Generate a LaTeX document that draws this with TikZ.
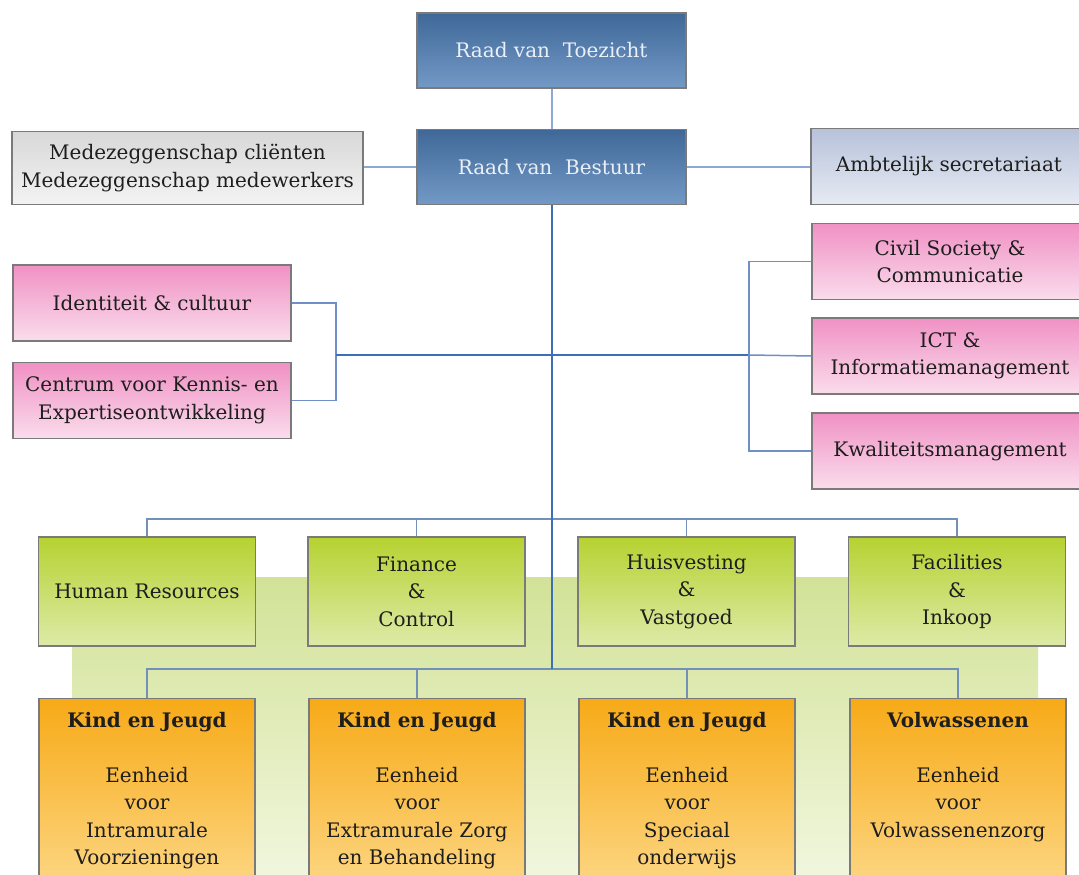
\documentclass[tikz,border=0pt]{standalone}
\usepackage{fontspec}
\setmainfont{DejaVu Serif}
\usetikzlibrary{calc}
\definecolor{boxborder}{HTML}{7A7A7A}
\definecolor{textdark}{HTML}{1E1E1E}
\definecolor{bluetop}{HTML}{3F6898}
\definecolor{bluebot}{HTML}{7399C6}
\definecolor{bluetext}{HTML}{EAF0F8}
\definecolor{greytop}{HTML}{D8D8D8}
\definecolor{greybot}{HTML}{F3F3F3}
\definecolor{ambtop}{HTML}{B7C2DA}
\definecolor{ambbot}{HTML}{E6EAF3}
\definecolor{pinktop}{HTML}{F091C4}
\definecolor{pinkbot}{HTML}{FADDEC}
\definecolor{greentop}{HTML}{B6D231}
\definecolor{greenbot}{HTML}{DDEAA8}
\definecolor{orangetop}{HTML}{F7AA17}
\definecolor{orangebot}{HTML}{FDD98A}
\definecolor{bgtop}{HTML}{D2E297}
\definecolor{bgbot}{HTML}{F3F8E3}
\definecolor{linklight}{HTML}{8EA7D6}
\definecolor{linkblue}{HTML}{6F8FC6}
\definecolor{trunkblue}{HTML}{3D6FB8}
\definecolor{busblue}{HTML}{7391B8}
\begin{document}
\begin{tikzpicture}[x=1pt,y=-1pt,
  box/.style={draw=boxborder, line width=1.3pt, align=center, inner sep=0pt,
    font=\fontsize{20}{27.5}\selectfont, text=textdark},
  bluebox/.style={box, top color=bluetop, bottom color=bluebot, text=bluetext,
    minimum width=269pt, minimum height=75pt},
  greybox/.style={box, top color=greytop, bottom color=greybot,
    minimum width=351pt, minimum height=73pt},
  ambbox/.style={box, top color=ambtop, bottom color=ambbot,
    minimum width=276pt, minimum height=76pt},
  pinkbox/.style={box, top color=pinktop, bottom color=pinkbot,
    minimum width=278pt, minimum height=76pt},
  pinkright/.style={box, top color=pinktop, bottom color=pinkbot,
    minimum width=276pt, minimum height=76pt},
  greenbox/.style={box, top color=greentop, bottom color=greenbot,
    minimum width=217pt, minimum height=109pt},
  orangebox/.style={box, top color=orangetop, bottom color=orangebot,
    minimum width=216pt, minimum height=200pt, anchor=north},
  otext/.style={align=center, inner sep=0pt, anchor=north,
    font=\fontsize{20}{27.5}\selectfont, text=textdark},
  lightlink/.style={draw=linklight, line width=2pt},
  link/.style={draw=linkblue, line width=1.5pt},
  trunk/.style={draw=trunkblue, line width=2pt},
  bus/.style={draw=busblue, line width=1.5pt}
]
\useasboundingbox (0,0) rectangle (1079,875);

% background panel
\fill[top color=bgtop, bottom color=bgbot] (72,577) rectangle (1038,900);

% top
\node[bluebox] (toe) at (551.5,50.5) {Raad van~ Toezicht};
\node[bluebox] (bes) at (551.5,167) {Raad van~ Bestuur};
\node[greybox] (med) at (187.5,168) {Medezeggenschap cliënten\\Medezeggenschap medewerkers};
\node[ambbox] (amb) at (949,166.5) {Ambtelijk secretariaat};

% staff
\node[pinkbox] (iden) at (152,303) {Identiteit \& cultuur};
\node[pinkbox] (cent) at (152,400.5) {Centrum voor Kennis- en\\Expertiseontwikkeling};
\node[pinkright] (civ) at (950,261.5) {Civil Society \&\\Communicatie};
\node[pinkright] (ict) at (950,356) {ICT \&\\Informatiemanagement};
\node[pinkright] (kwal) at (950,451) {Kwaliteitsmanagement};

% support
\node[greenbox] (h1) at (147,591.5) {Human Resources};
\node[greenbox] (h2) at (416.5,591.5) {Finance\\\&\\Control};
\node[greenbox] (h3) at (686.5,591.5) {Huisvesting\\\&\\Vastgoed};
\node[greenbox] (h4) at (957,591.5) {Facilities\\\&\\Inkoop};

% units
\node[orangebox] (o1) at (147,698) {};
\node[orangebox] (o2) at (417,698) {};
\node[orangebox] (o3) at (687,698) {};
\node[orangebox] (o4) at (958,698) {};
\node[otext] (o1t) at ($(o1.north)+(0,14)$) {\textbf{Kind en Jeugd}\\[27.5pt]Eenheid\\voor\\Intramurale\\Voorzieningen};
\node[otext] (o2t) at ($(o2.north)+(0,14)$) {\textbf{Kind en Jeugd}\\[27.5pt]Eenheid\\voor\\Extramurale Zorg\\en Behandeling};
\node[otext] (o3t) at ($(o3.north)+(0,14)$) {\textbf{Kind en Jeugd}\\[27.5pt]Eenheid\\voor\\Speciaal\\onderwijs};
\node[otext] (o4t) at ($(o4.north)+(0,14)$) {\textbf{Volwassenen}\\[27.5pt]Eenheid\\voor\\Volwassenenzorg};

% helper coordinates
\coordinate (lb) at (336,355);
\coordinate (rb) at (749,355);
\coordinate (gb) at (551.5,519);
\coordinate (ob) at (551.5,669);

% connectors
\draw[lightlink] (toe.south) -- (bes.north);
\draw[lightlink] (med.east |- bes.west) -- (bes.west);
\draw[lightlink] (bes.east) -- (amb.west |- bes.east);

\draw[link] (iden.east) -| (lb) |- (cent.east);
\draw[trunk] (lb) -- (rb);
\draw[link] (civ.west) -| (rb) |- (kwal.west);
\draw[link] (rb) -- (ict.west);

\draw[bus] (h1.north) |- (gb) -| (h4.north);
\draw[bus] (h2.north) -- (h2.north |- gb);
\draw[bus] (h3.north) -- (h3.north |- gb);

\draw[bus] (o1.north) |- (ob) -| (o4.north);
\draw[bus] (o2.north) -- (o2.north |- ob);
\draw[bus] (o3.north) -- (o3.north |- ob);
\draw[trunk] (bes.south) -- (ob);
\end{tikzpicture}
\end{document}
